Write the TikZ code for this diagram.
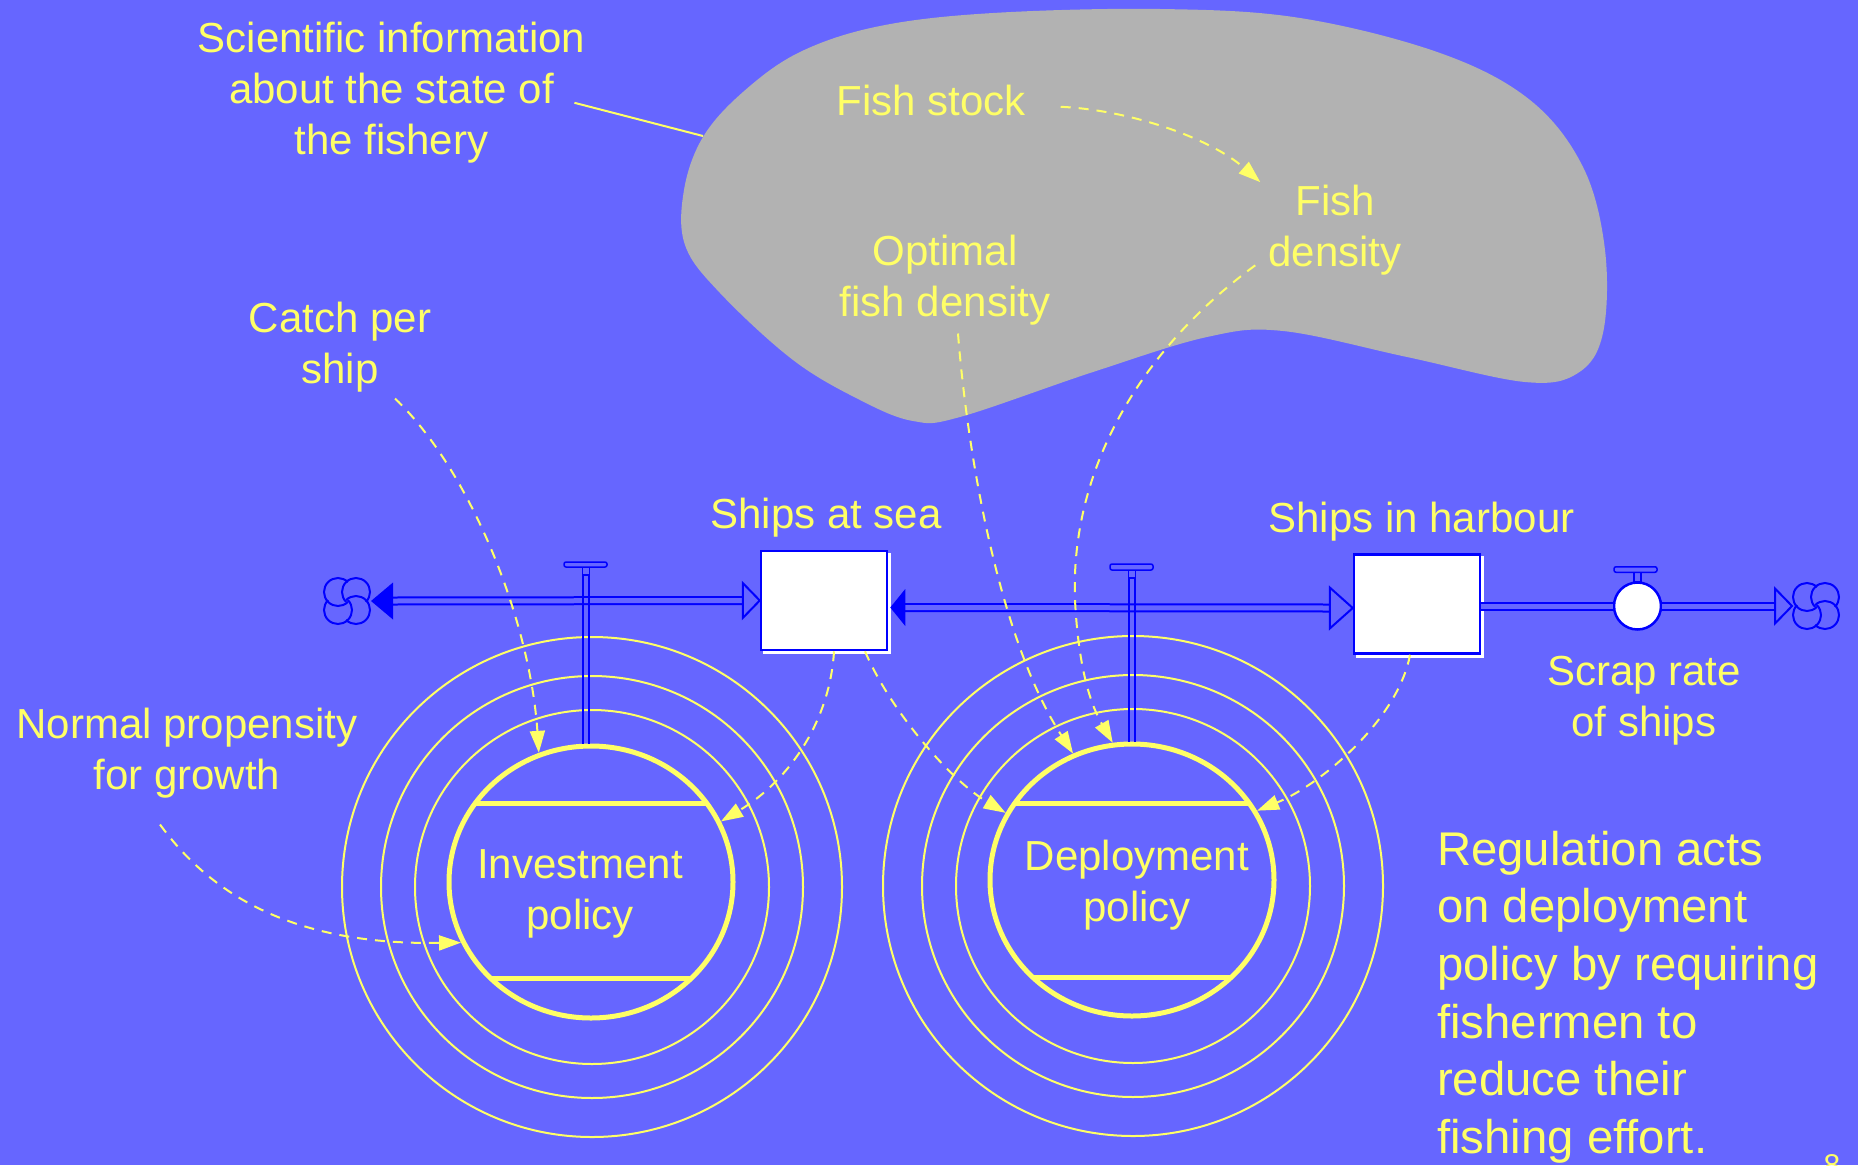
\documentclass[tikz,border=0pt]{standalone}
\usepackage{fontspec}
\setmainfont{Liberation Sans}
\usetikzlibrary{shapes.geometric,arrows.meta,calc}
\definecolor{bg}{HTML}{6666FF}
\definecolor{ylw}{HTML}{FFFF66}
\definecolor{blobgray}{HTML}{B2B2B2}
\definecolor{pipeblue}{HTML}{0000FF}
\tikzset{
  cloudpic/.pic={
    \foreach \cx/\cy in {-9/-9,9/-9,9/9,-9/9}{
      \fill[bg] (\cx,\cy) circle[radius=14];
    }
    \foreach \cx/\cy/\a in {-9/-9/45,9/-9/135,9/9/225,-9/9/315}{
      \draw[pipeblue,line width=2pt] ($(\cx,\cy)+(\a:14)$) arc[start angle=\a, end angle=\a+270, radius=14];
    }
  }
}
\begin{document}
\begin{tikzpicture}[x=1pt,y=-1pt,
  lab/.style={text=ylw,font=\fontsize{42}{51}\selectfont,align=center,inner sep=0pt},
  biglab/.style={text=ylw,font=\fontsize{47.3}{57.6}\selectfont,align=left,inner sep=0pt},
  dep/.style={draw=ylw,line width=2pt,dash pattern=on 10pt off 8pt,-{Triangle[length=22pt,width=15pt,fill=ylw]}},
  ring/.style={draw=ylw,line width=2pt},
  policy/.style={ellipse,draw=ylw,line width=5pt,minimum width=284pt,minimum height=272pt,inner sep=0pt},
  chord/.style={draw=ylw,line width=5pt},
  stock/.style={rectangle,draw=pipeblue,fill=white,line width=2.5pt,minimum width=126pt,minimum height=99pt,inner sep=0pt},
  pipe/.style={draw=pipeblue,line width=2pt,double=bg,double distance=5pt},
  hollowhead/.style={draw=pipeblue,fill=bg,line width=2pt,line join=miter},
  valvepart/.style={draw=pipeblue,fill=bg,line width=1.5pt},
  stemline/.style={draw=pipeblue,line width=1.8pt},
  cloudnode/.style={circle,minimum size=48pt,inner sep=0pt,outer sep=0pt},
  scrapvalve/.style={circle,draw=pipeblue,fill=white,line width=2.5pt,minimum size=47pt,inner sep=0pt}
]
\useasboundingbox (0,0) rectangle (1858,1165);
\fill[bg] (0,0) rectangle (1858,1165);

% grey cloud of scientific information
\fill[blobgray] plot[smooth cycle, tension=0.6] coordinates {
  (703,137) (743,92) (800,52) (880,26) (993,13) (1160,9) (1300,18) (1440,53)
  (1530,100) (1583,167) (1605,250) (1603,333) (1578,373) (1525,382) (1407,357)
  (1283,331) (1207,337) (1093,372) (960,417) (913,421) (860,400) (793,360)
  (720,293) (685,245) (684,190)};
\coordinate (blobedge) at (703,136);

% rings
\foreach \r in {177,211,250}{
  \draw[ring] (592,887) circle[radius=\r];
  \draw[ring] (1133,886) circle[radius=\r];
}

% policies
\node[policy] (invest) at (591,882) {};
\node[policy] (deploy) at (1132,880) {};
\draw[chord] ($(invest.center)+(-116,-79)$) -- ($(invest.center)+(116,-79)$);
\draw[chord] ($(invest.center)+(-101,96)$) -- ($(invest.center)+(101,96)$);
\draw[chord] ($(deploy.center)+(-117,-77)$) -- ($(deploy.center)+(117,-77)$);
\draw[chord] ($(deploy.center)+(-100,97)$) -- ($(deploy.center)+(100,97)$);
\node[lab] (investlab) at (580,893.3) {\strut Investment\\policy\strut};
\node[lab] (deploylab) at (1137,885.3) {\strut Deployment\\policy\strut};

% labels
\node[lab] (sci) at (391.5,92.8) {\strut Scientific information\\about the state of\\the fishery\strut};
\node[lab] (fishstock) at (931,104.8) {\strut Fish stock};
\node[lab] (optdens) at (945,280.3) {\strut Optimal\\fish density\strut};
\node[lab] (fishdens) at (1335,230.3) {\strut Fish\\density\strut};
\node[lab] (catch) at (340,347.3) {\strut Catch per\\ship\strut};
\node[lab] (normal) at (187,753.3) {\strut Normal propensity\\for growth\strut};
\node[lab] (shipsealab) at (826,517.8) {\strut Ships at sea};
\node[lab] (shipharblab) at (1421.5,521.8) {\strut Ships in harbour};
\node[lab] (scraplab) at (1644,700.3) {\strut Scrap rate\\of ships\strut};
\node[biglab,anchor=north west] (reg) at (1437,824.7) {\strut Regulation acts\\on deployment\\policy by requiring\\fishermen to\\reduce their\\fishing effort.\strut};
\begin{scope}
  \clip (0,0) rectangle (1858,1165);
  \node[text=ylw,font=\fontsize{30}{36}\selectfont,anchor=north,inner sep=0pt] (pgnum) at (1832,1154) {8};
\end{scope}

\draw[ylw,line width=2pt] ($(sci.east)+(-11,10)$) -- (blobedge);

% stocks
\fill[white] (763,553) rectangle (891,654);
\node[stock] (shipsea) at (824,600.5) {};
\fill[white] (1356,556) rectangle (1484,658);
\node[stock] (shipharb) at (1417,604) {};

% left pipe
\node[cloudnode] (cloudL) at (347,601) {};
\pic at (cloudL) {cloudpic};
\draw[pipe] ($(cloudL.east)+(20,0)$) -- ($(shipsea.west)+(-16,0)$);
\fill[pipeblue] (cloudL.east) -- ++(22,-18.5) -- ++(0,37) -- cycle;
\draw[hollowhead] (shipsea.west) -- ++(-17,-17.5) -- ++(0,35) -- cycle;
\coordinate (valveA) at (586,575);
\draw[stemline] ($(valveA)+(-3,0)$) -- ($(valveA |- invest.north)+(-3,0)$);
\draw[stemline] ($(valveA)+(3,0)$) -- ($(valveA |- invest.north)+(3,0)$);
\draw[valvepart] ($(valveA)+(-3.5,-8)$) rectangle ($(valveA)+(3.5,0)$);
\draw[valvepart,rounded corners=2pt] ($(valveA)+(-22,-13)$) rectangle ($(valveA)+(21,-8)$);

% middle pipe
\coordinate (midL) at ($(shipsea.east)+(2,7)$);
\coordinate (midR) at ($(shipharb.west)+(0,4)$);
\draw[pipe] ($(midL)+(14,0)$) -- ($(midR)+(-22,0)$);
\fill[pipeblue] (midL) -- ++(15,-18.5) -- ++(0,37) -- cycle;
\draw[hollowhead] (midR) -- ++(-23,-20.5) -- ++(0,41) -- cycle;
\coordinate (valveB) at (1132,578);
\draw[stemline] ($(valveB)+(-3,0)$) -- ($(valveB |- deploy.north)+(-3,0)$);
\draw[stemline] ($(valveB)+(3,0)$) -- ($(valveB |- deploy.north)+(3,0)$);
\draw[valvepart] ($(valveB)+(-3.5,-8)$) rectangle ($(valveB)+(3.5,0)$);
\draw[valvepart,rounded corners=2pt] ($(valveB)+(-22,-14)$) rectangle ($(valveB)+(21,-8)$);

% right pipe
\node[scrapvalve] (scrapv) at (1637.5,606) {};
\node[cloudnode] (cloudR) at (1816,606) {};
\pic at (cloudR) {cloudpic};
\draw[pipe] ($(shipharb.east)+(0,2)$) -- (scrapv.west);
\draw[pipe] (scrapv.east) -- ($(cloudR.west)+(-16,0)$);
\draw[hollowhead] (cloudR.west) -- ++(-17,-17.5) -- ++(0,35) -- cycle;
\draw[valvepart] ($(scrapv.north)+(-3.5,-9)$) rectangle ($(scrapv.north)+(3.5,0)$);
\draw[valvepart,rounded corners=2pt] ($(scrapv.north)+(-23.5,-14.5)$) rectangle ($(scrapv.north)+(19.5,-9)$);

% information links
\draw[dep] ($(fishstock.east)+(35,2)$) .. controls (1130,110) and (1210,138) .. ($(fishdens.north west)+(-8,3)$);
\draw[dep] ($(fishdens.west)+(-13,35)$) .. controls (1140,350) and (1070,470) .. (1075,600) .. controls (1079,680) and (1095,712) .. (deploy.98);
\draw[dep] ($(optdens.south)+(13,2)$) .. controls (968,460) and (1000,640) .. (deploy.115);
\draw[dep] ($(shipsea.south)+(10,0)$) .. controls (830,720) and (790,780) .. (invest.25);
\draw[dep] ($(shipsea.south)+(41,0)$) .. controls (890,710) and (950,780) .. (deploy.152);
\draw[dep] ($(shipharb.south)+(-7,0)$) .. controls (1398,720) and (1320,785) .. (deploy.29);
\draw[dep] ($(catch.south)+(55,0)$) .. controls (470,470) and (530,620) .. (invest.112);
\draw[dep] ($(normal.south)+(-27,20)$) .. controls (215,900) and (300,945) .. (invest.205);
\end{tikzpicture}
\end{document}
